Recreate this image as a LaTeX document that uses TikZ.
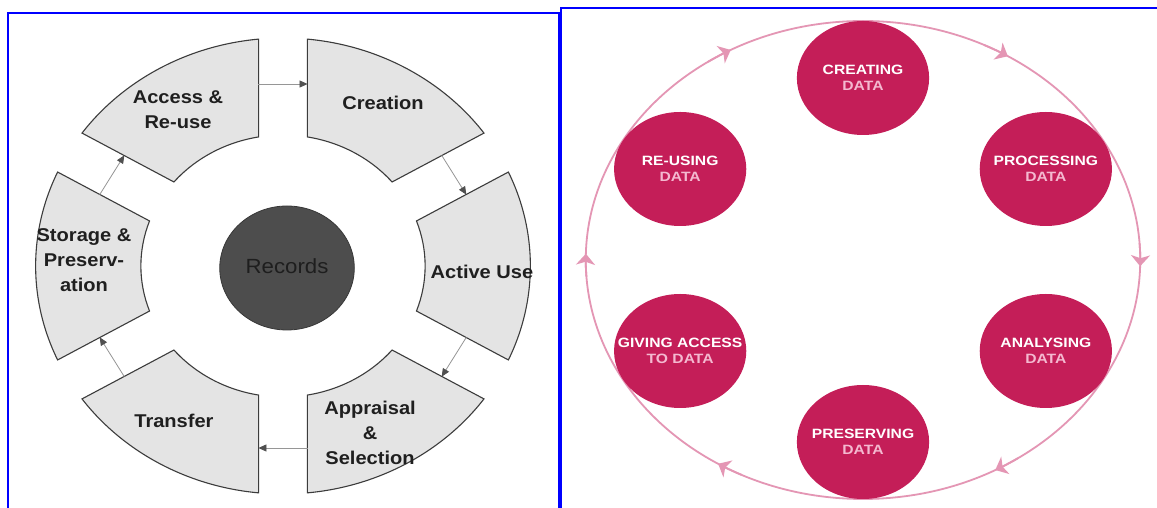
\documentclass[tikz,border=0pt]{standalone}
\usepackage{fontspec}
\setmainfont{Liberation Sans}
\usetikzlibrary{arrows.meta}
\definecolor{segfill}{RGB}{228,228,228}
\definecolor{segline}{RGB}{60,60,60}
\definecolor{arrline}{RGB}{150,150,150}
\definecolor{arrhead}{RGB}{80,80,80}
\definecolor{recfill}{RGB}{77,77,77}
\definecolor{recline}{RGB}{55,55,55}
\definecolor{rectext}{RGB}{30,30,30}
\definecolor{frameblue}{RGB}{0,0,255}
\definecolor{crimson}{RGB}{196,30,88}
\definecolor{ringpink}{RGB}{228,150,180}
\definecolor{datapink}{RGB}{244,185,208}
\begin{document}
\begin{tikzpicture}[x=1pt,y=1pt,
  seg/.style={fill=segfill, draw=segline, line width=1.1pt, line join=miter},
  seglbl/.style={font=\fontsize{18.5}{25}\selectfont\bfseries, align=center, text=black!88, transform shape, inner sep=0pt},
  flow/.style={draw=arrline, line width=0.8pt, -{Triangle[length=8pt,width=7pt,color=arrhead]}},
  recnode/.style={circle, fill=recfill, draw=recline, line width=0.8pt, minimum size=124pt, inner sep=0pt, transform shape, font=\fontsize{20.5}{24}\selectfont, text=rectext},
  crim/.style={circle, fill=crimson, minimum size=114pt, inner sep=0pt, transform shape, align=center, font=\fontsize{13.5}{16}\selectfont\bfseries, text=white},
  ring/.style={draw=ringpink, line width=1.8pt},
  ringarrow/.style={draw=ringpink, line width=1.8pt, -{Stealth[length=11pt,width=19pt,inset=3pt]}},
  frame/.style={draw=frameblue, line width=2pt}
]
\useasboundingbox[fill=white] (0,0) rectangle (1157,508);

% ---------- left panel ----------
\draw[frame] (8,-5) -- (8,495) -- (558.5,495) -- (558.5,-5);
\begin{scope}[shift={(283,242)}, xscale=1.085]
  \foreach \c in {60,0,-60,-120,180,120} {
    \draw[seg] ({\c+24.34}:228) arc[start angle={\c+24.34}, end angle={\c-24.34}, radius=228]
      -- ({\c-20.11}:131) arc[start angle={\c-20.11}, end angle={\c+20.11}, radius=131] -- cycle;
  }
  \node[recnode] (rec) at (3.7,-2) {\raisebox{4pt}{Records}};
  \node[seglbl] (access) at (-96.8,156) {Access \&\\Re-use};
  \node[seglbl] (creation) at (92.2,163) {Creation};
  \node[seglbl] (active) at (183.4,-6) {Active Use};
  \node[seglbl] (appraisal) at (80.2,-167) {Appraisal\\\&\\Selection};
  \node[seglbl] (transfer) at (-100.5,-155) {Transfer};
  \node[seglbl] (storage) at (-183.4,6) {Storage \&\\Preserv-\\ation};
  \foreach \g/\p in {90/a,30/b,-30/c,-90/d,-150/e,150/f} {
    \coordinate (\p s) at ({\g+7.1}:183.4);
    \coordinate (\p e) at ({\g-7.1}:183.4);
  }
\end{scope}
\draw[flow] (as) -- (ae);
\draw[flow] (bs) -- (be);
\draw[flow] (cs) -- (ce);
\draw[flow] (ds) -- (de);
\draw[flow] (es) -- (ee);
\draw[flow] (fs) -- (fe);

% ---------- right panel ----------
\draw[frame] (560.5,-5) -- (560.5,500) -- (1165,500);
\begin{scope}[shift={(863,248)}, xscale=1.16]
  \draw[ring] (0,0) circle[radius=239];
  \foreach \a in {120,60,0,-60,-120,180} {
    \draw[ringarrow] ({\a+4}:239) arc[start angle={\a+4}, end angle={\a-1.5}, radius=239];
  }
  \node[crim] (create) at (90:182) {CREATING\\\textcolor{datapink}{DATA}};
  \node[crim] (process) at (30:182) {PROCESSING\\\textcolor{datapink}{DATA}};
  \node[crim] (analyse) at (-30:182) {ANALYSING\\\textcolor{datapink}{DATA}};
  \node[crim] (preserve) at (-90:182) {PRESERVING\\\textcolor{datapink}{DATA}};
  \node[crim] (giving) at (-150:182) {GIVING ACCESS\\\textcolor{datapink}{TO DATA}};
  \node[crim] (reuse) at (150:182) {RE-USING\\\textcolor{datapink}{DATA}};
\end{scope}
\end{tikzpicture}
\end{document}
